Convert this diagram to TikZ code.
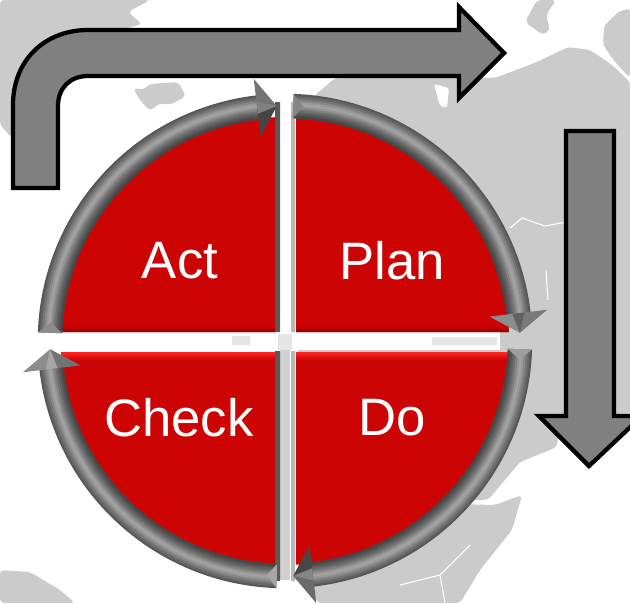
\documentclass[tikz,border=0pt]{standalone}
\usepackage{fontspec}
\setmainfont{Liberation Sans}
\usetikzlibrary{positioning}

\definecolor{landgray}{HTML}{CBCBCB}
\definecolor{quadred}{HTML}{CC0404}
\tikzset{
  land/.style={fill=landgray, rounded corners=3pt},
  bigarrow/.style={draw=black, line width=3.2pt, fill=black!50, line join=miter, miter limit=4},
  quadlabel/.style={text=white, font=\fontsize{39.5pt}{39.5pt}\selectfont, inner sep=0pt},
  facet/.style={line width=.2pt}
}

\begin{document}
\begin{tikzpicture}[x=.75pt, y=-.75pt]
  \useasboundingbox (0,0) rectangle (630,603);
  \clip (0,0) rectangle (630,603);
  \fill[white] (0,0) rectangle (630,603);
  \coordinate (hub) at (285,341);

  % map behind everything
  \fill[land] (0,0) -- (150,0) -- (128,12) -- (142,24) -- (100,36) -- (30,110) -- (12,138) -- (0,125) -- cycle;
  \fill[land] (133,88) -- (143,90) -- (150,84) -- (178,82) -- (186,96) -- (170,105) -- (160,103) -- (150,111) -- (140,100) -- cycle;
  \fill[land] (298,110) -- (335,78) -- (430,76) -- (495,78) -- (537,62) -- (568,47) -- (590,50) -- (612,65) -- (630,82)
    -- (630,415) -- (560,415) -- (557,447) -- (520,462) -- (488,500) -- (298,500) -- cycle;
  \fill[land] (525,22) -- (537,0) -- (556,0) -- (546,15) -- (550,30) -- (543,35) -- cycle;
  \fill[land] (630,8) -- (618,12) -- (604,26) -- (603,45) -- (615,62) -- (630,78) -- cycle;
  \fill[land] (495,505) -- (522,495) -- (512,530) -- (480,570) -- (460,603) -- (318,603) -- (300,570) -- (300,500) -- cycle;
  \fill[land] (0,570) -- (30,572) -- (60,590) -- (75,603) -- (0,603) -- cycle;
  \fill[white, rounded corners=2pt] (434,84) -- (449,88) -- (447,108) -- (440,106) -- cycle;
  \draw[white, line width=.8pt] (510,228) -- (522,218) -- (545,226) -- (566,222) (546,270) -- (548,300)
    (470,545) -- (440,575) -- (445,603) (400,585) -- (440,575);

  % big arrows
  \draw[bigarrow] (13,188) -- (13,105) .. controls (13,60) and (45,30) .. (88,30) -- (459,30) -- (459,7)
    -- (504,53) -- (459,98) -- (459,76) -- (88,76) .. controls (70,76) and (58,88) .. (58,106) -- (58,188) -- cycle;
  \draw[bigarrow] (566,131) -- (614,131) -- (614,416) -- (642,416) -- (589,466) -- (539,416) -- (566,416) -- cycle;

  % gaps between the quadrants
  \fill[white] (280,102) rectangle (291,335);
  \fill[black!18] (280,335) rectangle (290,580);
  \fill[white] (40,332) rectangle (500,350);
  \fill[black!10] (232,336) rectangle (250,345) (278,334) rectangle (292,350) (432,337) rectangle (497,345);
  \fill[black!65] (275,102) rectangle (280,332) (275,351) rectangle (280,581);
  \fill[black!28] (291,102) rectangle (295,332) (291,351) rectangle (295,581);

  % red quadrants
  \begin{scope}
    \clip (hub) circle[radius=224];
    \fill[quadred] (40,90) rectangle (275,332) (296,90) rectangle (530,332);
    \fill[quadred] (40,352) rectangle (275,590) (296,352) rectangle (530,590);
    \shade[top color=quadred, bottom color=quadred!70!black] (40,326) rectangle (275,332) (296,326) rectangle (530,332);
    \shade[top color=red!85!white, bottom color=quadred] (40,352) rectangle (275,360) (296,352) rectangle (530,360);
  \end{scope}

  % ring pieces, one per quadrant
  \begin{scope}[shift={(hub)}]
    \foreach \rot/\outcol/\incol/\backcol/\ridgecol in {0/black!58/black!72/black!38/black!48, 90/black!45/black!55/black!35/black!35,
                                     180/black!55/black!73/black!45/black!50, 270/black!52/black!45/black!48/black!62} {
      \foreach \rad/\shadeval in {246/66, 244/60, 242/54, 240/47, 238/40, 236/36, 234/41, 232/49, 230/56, 228/62, 226/67, 224/72} {
        \draw[black!\shadeval, line width=1.9pt]
          ({\rot+2}:\rad) arc[start angle=\rot+2, end angle=\rot+84, radius=\rad];
      }
      \fill[\backcol] ({\rot+2}:223) -- ({\rot+2}:247) -- ({\rot+4.5}:235) -- cycle;
      \coordinate (headin) at ({\rot+83.2}:206);
      \coordinate (headout) at ({\rot+83.2}:264);
      \coordinate (headmid) at ({\rot+83.2}:235);
      \coordinate (headtip) at ({\rot+88}:235);
      \fill[\outcol, facet] (headout) -- (headtip) -- (headmid) -- cycle;
      \fill[\incol, facet] (headin) -- (headtip) -- (headmid) -- cycle;
      \fill[\ridgecol] ({\rot+83.2}:229) -- ({\rot+83.2}:241) -- (headtip) -- cycle;
    }
  \end{scope}

  \node[quadlabel] (act) at (180,261) {Act};
  \node[quadlabel] (plan) at (392,261) {Plan};
  \node[quadlabel] (check) at (179,418) {Check};
  \node[quadlabel] (do) at (392,418) {Do};
\end{tikzpicture}
\end{document}
